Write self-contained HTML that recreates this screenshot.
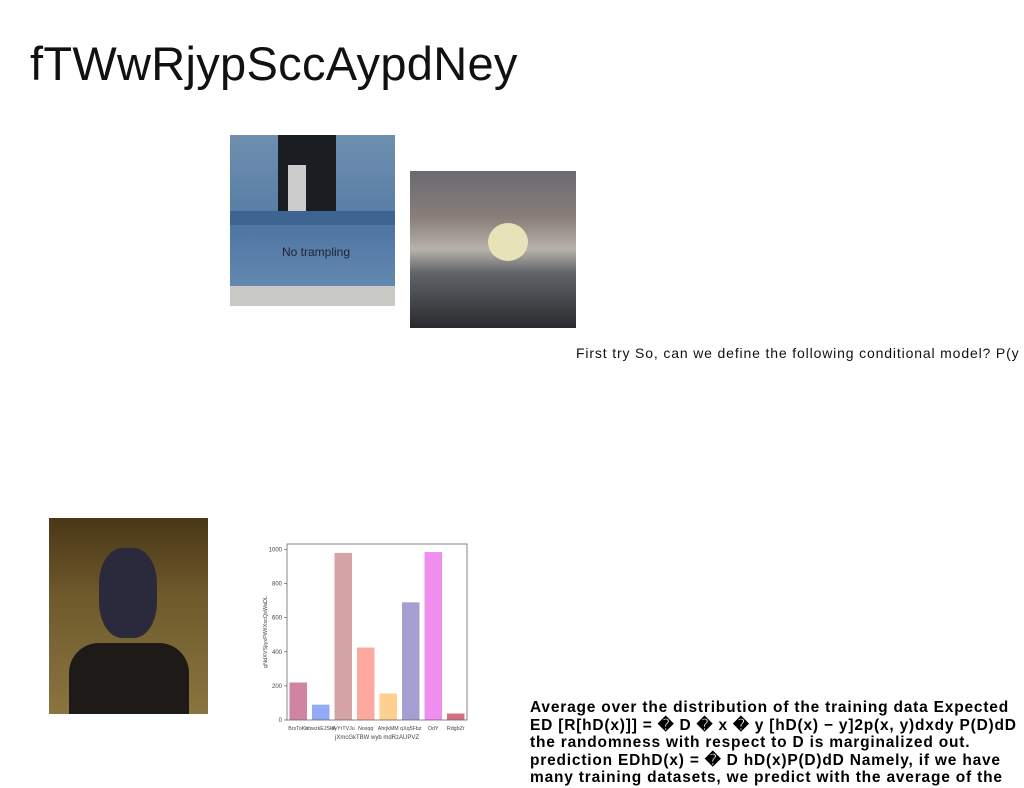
<!DOCTYPE html>
<html><head><meta charset="utf-8"><style>
body{margin:0;width:1024px;height:788px;background:#fff;position:relative;overflow:hidden;font-family:"Liberation Sans",sans-serif}
.abs{position:absolute}
</style></head><body>
<div class="abs" style="left:30px;top:36px;font-size:47px;letter-spacing:0.3px;color:#111;font-weight:300">fTWwRjypSccAypdNey</div>
<div class="abs" style="left:230px;top:135px;width:165px;height:171px;background:linear-gradient(180deg,#6f8fb0 0%,#5a7ea5 45%,#4f76a3 55%,#6b8fb5 100%)">
<div class="abs" style="left:48px;top:0;width:58px;height:76px;background:#1a1d22"></div>
<div class="abs" style="left:58px;top:30px;width:18px;height:46px;background:#ccc"></div>
<div class="abs" style="left:0;top:76px;width:165px;height:14px;background:#3e6591"></div>
<div class="abs" style="left:0;top:151px;width:165px;height:20px;background:#c9c9c5"></div>
<div class="abs" style="left:52px;top:110px;font-size:12px;color:#223">No trampling</div></div>
<div class="abs" style="left:410px;top:171px;width:166px;height:157px;background:linear-gradient(180deg,#6a6a72 0%,#8a7f7a 30%,#b7b2aa 50%,#5f6468 65%,#2a2a2e 100%)">
<div class="abs" style="left:78px;top:52px;width:40px;height:38px;border-radius:50%;background:#e8e2b8"></div></div>
<div class="abs" style="left:576px;top:345px;font-size:14px;letter-spacing:0.85px;color:#111;white-space:nowrap">First try So, can we define the following conditional model? P(y</div>
<div class="abs" style="left:49px;top:518px;width:159px;height:196px;background:linear-gradient(180deg,#4a3716 0%,#6f5a2c 40%,#8a7540 100%)">
<div class="abs" style="left:50px;top:30px;width:58px;height:90px;border-radius:40%;background:#2a2a3c"></div>
<div class="abs" style="left:20px;top:125px;width:120px;height:71px;background:#1e1a18;border-radius:30px 30px 0 0"></div></div>
<svg class="abs" style="left:0;top:0" width="1024" height="788">
<g id="chart"></g></svg>
<div class="abs" style="left:530px;top:699px;font-size:15.5px;font-weight:bold;line-height:17.5px;color:#000;white-space:nowrap;letter-spacing:0.8px">Average over the distribution of the training data Expected<br>ED [R[hD(x)]] = � D � x � y [hD(x) − y]2p(x, y)dxdy P(D)dD<br>the randomness with respect to D is marginalized out.<br>prediction EDhD(x) = � D hD(x)P(D)dD Namely, if we have<br>many training datasets, we predict with the average of the</div>
<script>
const categories=["BrsToKe","bbwzkEJSkA","fiyYrTVJu","Nosqq","AhrjkMM","qXq5Fbz","OdY","RdgbZr"];
const values=[220,90,980,425,155,690,985,38];
const colors=["#d0849f","#94aaf5","#d4a4a4","#fda99f","#fdd08f","#a49fd0","#f08ef0","#d4707f"];
const yTicks=[0,200,400,600,800,1000];
const NS="http://www.w3.org/2000/svg";
const g=document.getElementById('chart');
const L=287,R=467,T=544,B=720;
const y=v=>B-v*0.1705;
const bw=(R-L)/categories.length;
const x=i=>L+bw*i;
function el(t,a){const e=document.createElementNS(NS,t);for(const k in a)e.setAttribute(k,a[k]);g.appendChild(e);return e;}
values.forEach((v,i)=>{const r=el('rect',{x:x(i)+2.5,y:y(v),width:bw-5,height:B-y(v),fill:colors[i]});


const t=el('text',{x:x(i)+bw/2,y:B+10,'font-size':5.3,'text-anchor':'middle',fill:'#444'});t.textContent=categories[i];

});
yTicks.forEach(v=>{el('line',{x1:L-3,x2:L,y1:y(v),y2:y(v),stroke:'#444','stroke-width':0.6});
const t=el('text',{x:L-5,y:y(v)+2,'font-size':6,'text-anchor':'end',fill:'#444'});t.textContent=v;

});
const box=el('rect',{x:L,y:T,width:R-L,height:B-T,fill:'none',stroke:'#666','stroke-width':0.8});


const xt=el('text',{x:(L+R)/2,y:B+19,'font-size':6,'text-anchor':'middle',fill:'#444'});xt.textContent="jXmcGkTBW wyb mdRzAUPVZ";


const yt=el('text',{x:0,y:0,'font-size':5.5,'text-anchor':'middle',fill:'#444',transform:`translate(267,${(T+B)/2}) rotate(-90)`});yt.textContent="gNdXVSjiyxPWiIXscQsWaDL";


</script>
</body></html>
